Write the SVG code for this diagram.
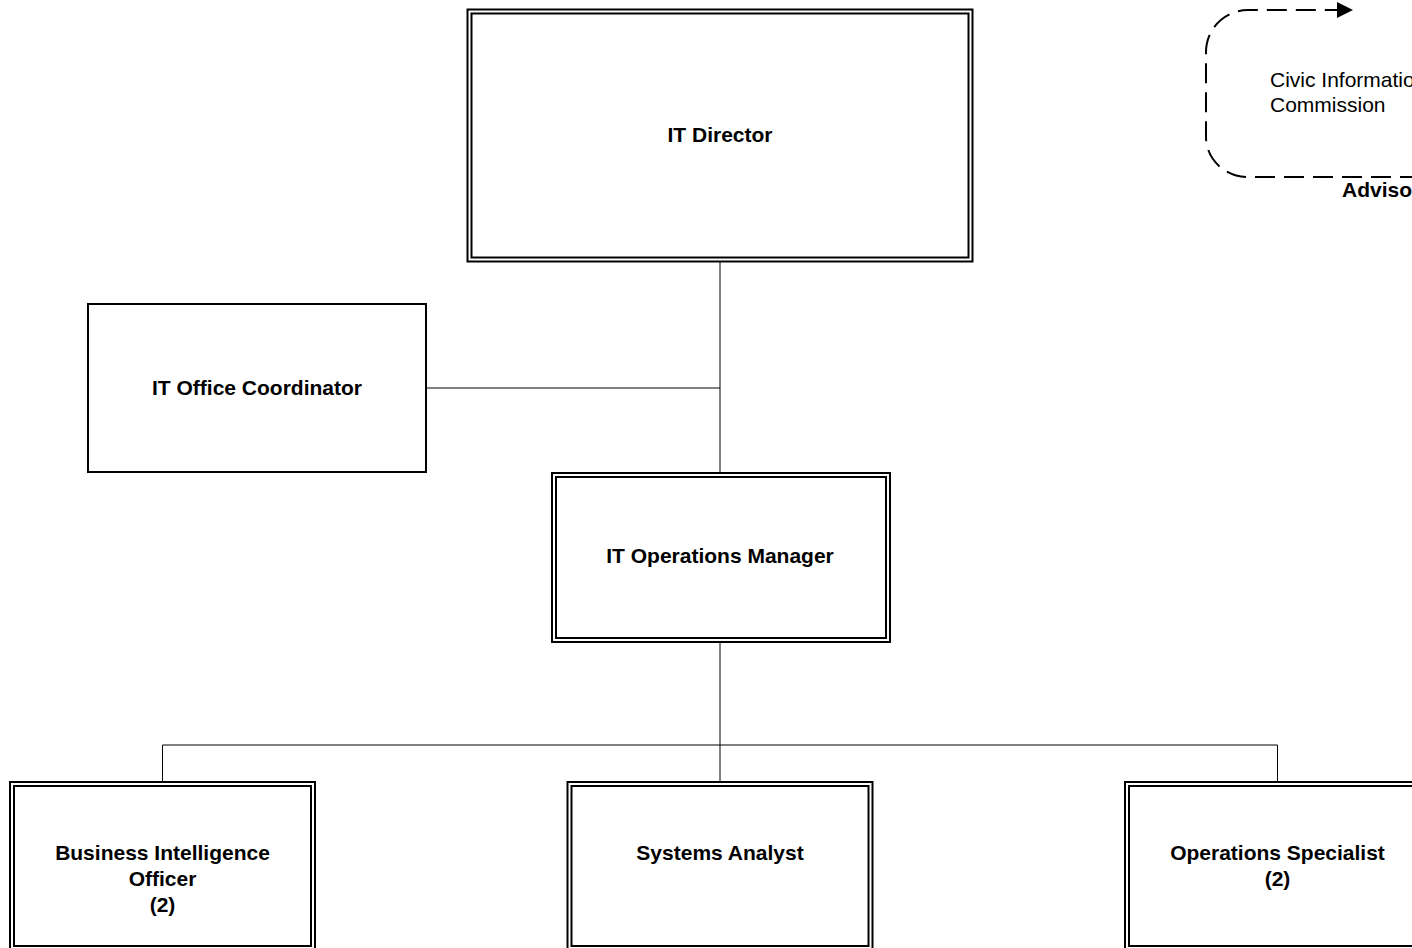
<svg xmlns="http://www.w3.org/2000/svg" width="1412" height="948" viewBox="0 0 1412 948">
<style>
.o{fill:#fff;stroke:#000;stroke-width:2}
.i{fill:none;stroke:#000;stroke-width:2}
.t{font-family:"Liberation Sans",Arial,sans-serif;font-size:21px;font-weight:bold;text-anchor:middle;fill:#000}
.r{font-family:"Liberation Sans",Arial,sans-serif;font-size:21px;fill:#000}
.c{fill:none;stroke:#000;stroke-width:1}
</style>
<rect width="1412" height="948" fill="#fff"/>
<g id="connectors">
<path class="c" d="M720,262 V473"/>
<path class="c" d="M426,388 H720"/>
<path class="c" d="M720,642 V745"/>
<path class="c" d="M162.5,745 H1277.5"/>
<path class="c" d="M162.5,745 V782"/>
<path class="c" d="M720,745 V782"/>
<path class="c" d="M1277.5,745 V782"/>
<path d="M1420,177 H1248 A42,40 0 0 1 1206,137 V52 A42,42 0 0 1 1248,10 H1338" fill="none" stroke="#000" stroke-width="2" stroke-dasharray="20 9"/>
<polygon points="1337,2 1353,10 1337,18" fill="#000"/>
</g>
<g id="it-director">
<rect class="o" x="467.5" y="9.5" width="505" height="252"/>
<rect class="i" x="471.5" y="13.5" width="497" height="244"/>
<text class="t" x="720" y="142">IT Director</text>
</g>
<g id="it-office-coordinator">
<rect class="o" x="88" y="304" width="338" height="168"/>
<text class="t" x="257" y="395">IT Office Coordinator</text>
</g>
<g id="it-operations-manager">
<rect class="o" x="552" y="473" width="338" height="169"/>
<rect class="i" x="556" y="477" width="330" height="161"/>
<text class="t" x="720" y="563">IT Operations Manager</text>
</g>
<g id="business-intelligence-officer">
<rect class="o" x="10" y="782" width="305" height="168"/>
<rect class="i" x="14" y="786" width="297" height="160"/>
<text class="t" x="162.5" y="860">Business Intelligence</text>
<text class="t" x="162.5" y="886">Officer</text>
<text class="t" x="162.5" y="912">(2)</text>
</g>
<g id="systems-analyst">
<rect class="o" x="567.5" y="782" width="305" height="168"/>
<rect class="i" x="571.5" y="786" width="297" height="160"/>
<text class="t" x="720" y="860">Systems Analyst</text>
</g>
<g id="operations-specialist">
<rect class="o" x="1125" y="782" width="305" height="168"/>
<rect class="i" x="1129" y="786" width="297" height="160"/>
<text class="t" x="1277.5" y="860">Operations Specialist</text>
<text class="t" x="1277.5" y="886">(2)</text>
</g>
<g id="civic-information-commission">
<text class="r" x="1270" y="87">Civic Information</text>
<text class="r" x="1270" y="112">Commission</text>
<text class="t" x="1342" y="197" style="text-anchor:start">Advisory</text>
</g>
</svg>
